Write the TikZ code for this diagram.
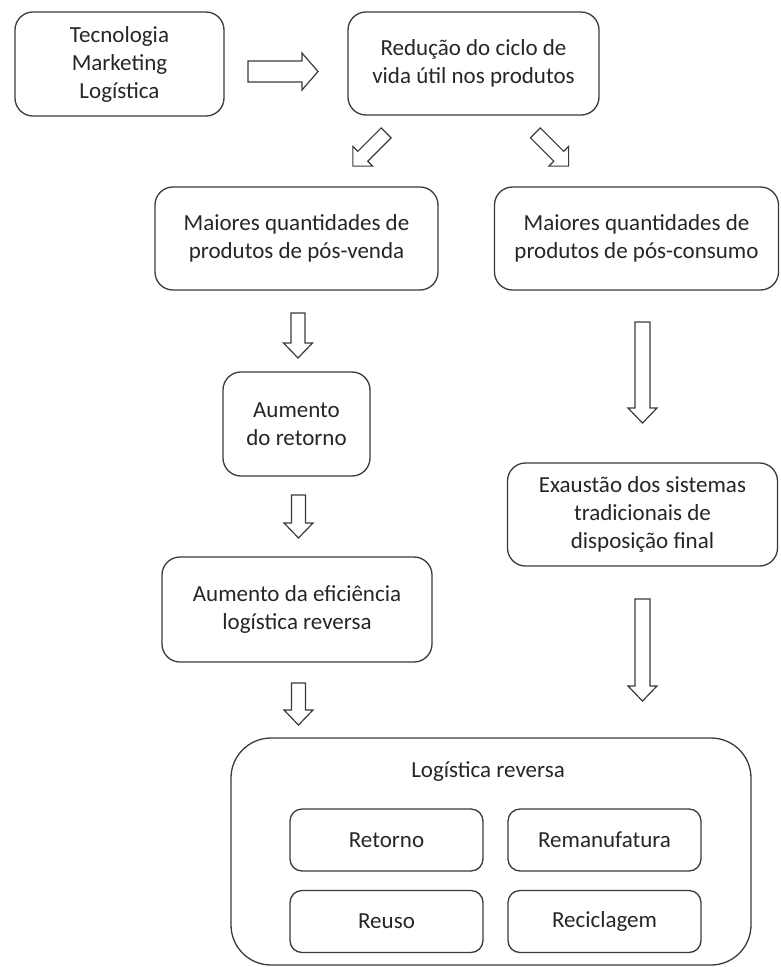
\documentclass[tikz,border=0pt]{standalone}
\usepackage{fontspec}
\setmainfont{Carlito}
\definecolor{linec}{HTML}{3A3A3A}
\definecolor{txt}{HTML}{262626}

% hollow block arrow centred at (#1,#2), turned by #3 degrees,
% length #4, shaft width #5, head width #6, head length #7
\newcommand\blockarrow[7]{%
  \draw[arrowline, shift={(#1,#2)}, rotate=#3]
    (-#4/2,-#5/2) -- (#4/2-#7,-#5/2) -- (#4/2-#7,-#6/2) -- (#4/2,0)
    -- (#4/2-#7,#6/2) -- (#4/2-#7,#5/2) -- (-#4/2,#5/2) -- cycle;}

\begin{document}
\begin{tikzpicture}[x=1pt,y=-1pt,
  every node/.style={font=\fontsize{23}{28}\selectfont, text=txt},
  box/.style={draw=linec, line width=1.3pt, rounded corners=18pt,
              align=center, inner sep=0pt},
  smallbox/.style={box, rounded corners=12pt, minimum width=193pt, minimum height=62pt},
  arrowline/.style={draw=linec, line width=1.2pt, line join=miter}]
\useasboundingbox (0,0) rectangle (781,967);

% top row
\node[box, minimum width=209pt, minimum height=104pt] (tec) at (119.5,64)
  {Tecnologia\\Marketing\\Logística};
\node[box, minimum width=251pt, minimum height=103pt] (red) at (473.5,63.5)
  {Redução do ciclo de\\vida útil nos produtos};

% second row
\node[box, minimum width=283pt, minimum height=103pt] (venda) at (296.5,238.5)
  {Maiores quantidades de\\produtos de pós-venda};
\node[box, minimum width=284pt, minimum height=103pt] (consumo) at (636.5,238.5)
  {Maiores quantidades de\\produtos de pós-consumo};

% left column
\node[box, minimum width=147pt, minimum height=104pt] (retorno) at (296.5,424)
  {Aumento\\do retorno};
\node[box, minimum width=270pt, minimum height=105pt] (efic) at (297,609.5)
  {Aumento da eficiência\\logística reversa};

% right column
\node[box, minimum width=270pt, minimum height=103pt] (exaust) at (642.5,514.5)
  {Exaustão dos sistemas\\tradicionais de\\disposição final};

% reverse logistics block
\node[box, rounded corners=40pt, minimum width=520pt, minimum height=227pt] (lr) at (491,851.5) {};
\node (lrtitle) at (488,772) {Logística reversa};
\node[smallbox] (ret) at (386.5,840) {Retorno};
\node[smallbox] (reman) at (604.5,840) {Remanufatura};
\node[smallbox] (reuso) at (386.5,921.5) {Reuso};
\node[smallbox] (recic) at (604.5,921.5) {Reciclagem};

% block arrows
\blockarrow{283}{71.5}{0}{70}{21}{37}{16}
\blockarrow{369.5}{149.5}{-135}{47}{14}{28}{14}
\blockarrow{552}{149.5}{-45}{47}{14}{28}{14}
\blockarrow{298}{335.5}{-90}{45}{14}{29}{15}
\blockarrow{298.5}{516.5}{-90}{43}{14}{29}{15}
\blockarrow{298.5}{704}{-90}{42}{14}{29}{15}
\blockarrow{642.5}{372.5}{-90}{101}{15}{29}{15}
\blockarrow{642.5}{650}{-90}{102}{15}{29}{15}
\end{tikzpicture}
\end{document}
